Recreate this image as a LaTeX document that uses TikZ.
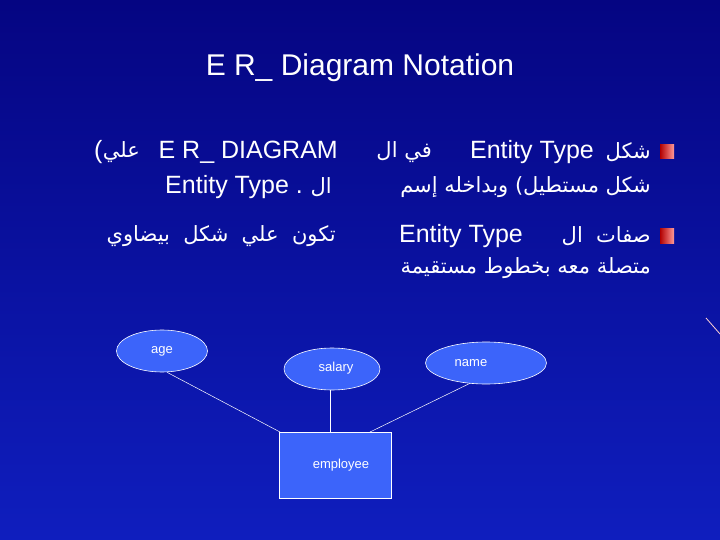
\documentclass[tikz,border=0pt]{standalone}
\usepackage{fontspec}
\setmainfont{Liberation Sans}
\newfontfamily\arabicfont[Script=Arabic]{DejaVu Sans}
\TeXXeTstate=1
\usetikzlibrary{shapes.geometric}
\definecolor{bgA}{RGB}{5,5,130}
\definecolor{bgB}{RGB}{15,30,190}
\definecolor{boxc}{RGB}{60,100,250}
\begin{document}
\begin{tikzpicture}[x=1pt,y=-1pt,
  lat/.style={text=white,font=\fontsize{25}{28}\selectfont,inner sep=0pt},
  ar/.style={text=white,font=\arabicfont\fontsize{21}{24}\selectfont,inner sep=0pt},
  attr/.style={ellipse,draw=white,fill=boxc,line width=0.6pt,text=white,font=\fontsize{13}{15}\selectfont,inner sep=0pt},
  ent/.style={rectangle,draw=white,fill=boxc,line width=0.6pt,text=white,font=\fontsize{13}{15}\selectfont},
  conn/.style={draw=white,line width=0.5pt},
  bul/.style={rectangle,minimum size=14pt,inner sep=0pt,left color=red!70!black,right color=red!40!white}]
\useasboundingbox (0,0) rectangle (720,540);
\shade[top color=bgA,bottom color=bgB] (0,0) rectangle (720,540);
\draw[pink!70,line width=0.8pt] (706,318) -- (720,334);
\node[text=white,font=\fontsize{30}{34}\selectfont] (title) at (360,68) {E R\_ Diagram Notation};
% bullets
\node[bul] (b1) at (667,152) {};
\node[bul] (b2) at (667,236) {};
% line 1
\node[ar,anchor=east] (l1a) at (651,152) {\beginR شكل\endR};
\node[lat,anchor=east] (l1b) at (594,152) {Entity Type};
\node[ar,anchor=east] (l1c) at (432,152) {\beginR في ال\endR};
\node[lat,anchor=east] (l1d) at (338,152) {E R\_ DIAGRAM};
\node[ar,anchor=east] (l1e) at (140,152) {\beginR علي\endR};
\node[lat,anchor=east] (l1f) at (l1e.west) {(};
% line 2
\node[ar,anchor=east] (l2a) at (651,187) {\beginR شكل مستطيل) وبداخله إسم\endR};
\node[ar,anchor=east] (l2b) at (332,187) {\beginR ال\endR};
\node[lat,anchor=east] (l2c) at (303,187) {Entity Type .};
% line 3
\node[ar,anchor=east] (l3a) at (651,236) {\beginR صفات \ ال\endR};
\node[lat,anchor=east] (l3b) at (523,236) {Entity Type};
\node[ar,anchor=east] (l3c) at (336,236) {\beginR تكون \ علي \ شكل \ بيضاوي\endR};
% line 4
\node[ar,anchor=east] (l4a) at (651,268) {\beginR متصلة معه بخطوط مستقيمة\endR};
% diagram
\node[attr,minimum width=91pt,minimum height=42pt] (age) at (162,351) {\raisebox{2pt}{age}};
\node[attr,minimum width=96pt,minimum height=42pt] (sal) at (332,369) {\hspace*{8pt}\raisebox{5pt}{salary}};
\node[attr,minimum width=121pt,minimum height=42pt] (nam) at (486,363) {\hspace*{-30pt}name};
\node[ent,minimum width=112pt,minimum height=66pt] (emp) at (335,465) {\hspace*{12pt}employee};
\coordinate (ea) at (280,432);
\coordinate (es) at (330,432);
\coordinate (en) at (370,432);
\draw[conn] (age.south) ++(5,0) -- (ea);
\draw[conn] (sal.south) ++(-2,0) -- (es);
\draw[conn] (nam.south) ++(-16,-1) -- (en);
\end{tikzpicture}
\end{document}
